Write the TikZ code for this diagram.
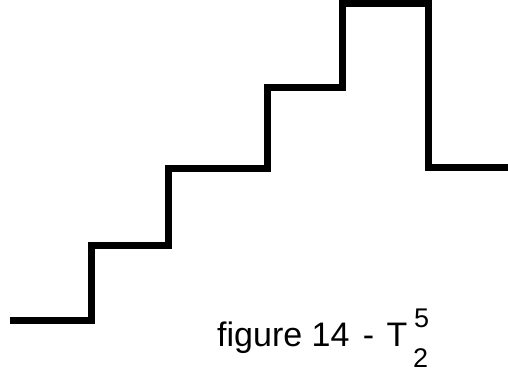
\documentclass[tikz,border=0pt]{standalone}
\usepackage{fontspec}
\setmainfont{Liberation Sans}
\begin{document}
\begin{tikzpicture}[x=1pt,y=-1pt,
  stair/.style={line width=7pt,line join=miter,line cap=butt,black},
  lbl/.style={inner sep=0pt,anchor=base west,font=\fontsize{34}{38}\selectfont},
  scr/.style={inner sep=0pt,anchor=base west,font=\fontsize{27}{30}\selectfont}]
\useasboundingbox[fill=white] (0,0) rectangle (508,372);
\draw[stair] (10,320.5) -- (91,320.5) -- (91,245) -- (168,245) -- (168,168) -- (267,168) -- (267,87.5) -- (342,87.5) -- (342,3) -- (428,3) -- (428,167.5) -- (508,167.5);
\node[lbl] (cap) at (217,346) {figure 14\hspace{4pt} -\hspace{3pt} T};
\node[scr] (sup) at (414,327) {5};
\node[scr] (sub) at (413,367) {2};
\end{tikzpicture}
\end{document}
